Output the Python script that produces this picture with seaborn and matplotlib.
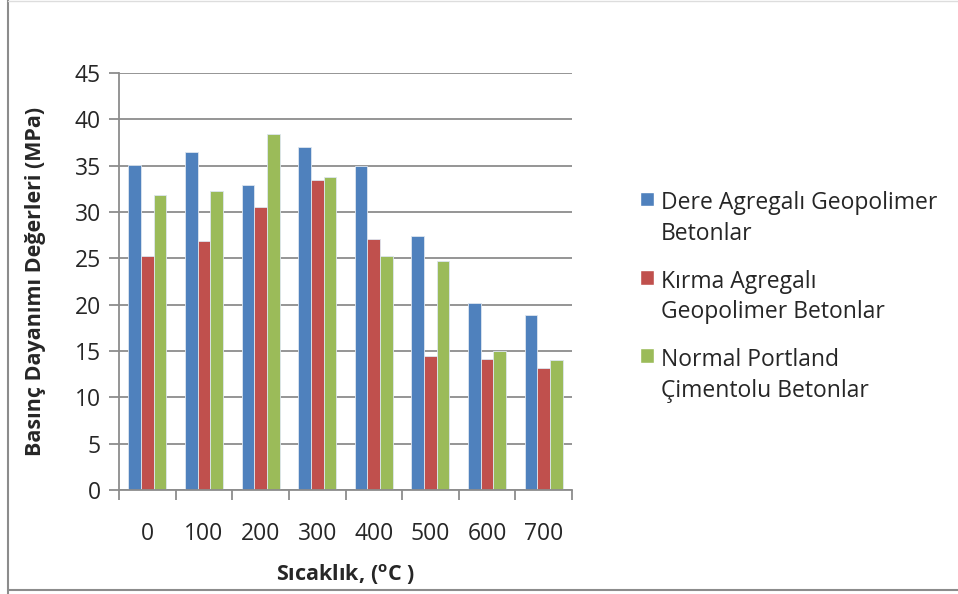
import numpy as np
import pandas as pd
import matplotlib
matplotlib.use("Agg")
import matplotlib.pyplot as plt
import seaborn as sns
from matplotlib.lines import Line2D
from matplotlib.patches import Rectangle
from matplotlib.legend_handler import HandlerPatch

# Basınç dayanımı verileri (MPa)
sicaklik = ["0", "100", "200", "300", "400", "500", "600", "700"]
seriler = ["Dere Agregalı Geopolimer\nBetonlar",
           "Kırma Agregalı\nGeopolimer Betonlar",
           "Normal Portland\nÇimentolu Betonlar"]
dere  = [35.1, 36.5, 32.9, 37.0, 35.0, 27.4, 20.2, 18.9]
kirma = [25.2, 26.9, 30.5, 33.5, 27.1, 14.5, 14.1, 13.2]
npc   = [31.8, 32.3, 38.4, 33.8, 25.3, 24.7, 15.0, 14.0]
renkler = ["#4F81BD", "#C0504D", "#9BBB59"]

df = pd.DataFrame({
    "sicaklik": sicaklik * 3,
    "seri": np.repeat(seriler, len(sicaklik)),
    "deger": dere + kirma + npc,
})

sns.set_style("white")
plt.rcParams["font.family"] = ["Open Sans", "DejaVu Sans"]
plt.rcParams["mathtext.fontset"] = "custom"
plt.rcParams["mathtext.rm"] = "Open Sans"
plt.rcParams["mathtext.bf"] = "Open Sans:bold"

fig = plt.figure(figsize=(9.58, 5.94), dpi=100)
ax = fig.add_axes([0.1242, 0.1751, 0.4729, 0.7020])

sns.barplot(data=df, x="sicaklik", y="deger", hue="seri", order=sicaklik,
            hue_order=seriler, palette=renkler, width=0.67, ax=ax,
            edgecolor="#dde6f0", linewidth=0.6, saturation=1, legend=False)

ax.set_ylim(0, 45)
ax.set_xlim(-0.5, 7.5)
ax.set_yticks(np.arange(0, 46, 5))
ax.yaxis.grid(True, color="#8c8c8c", linewidth=1.3)
ax.set_axisbelow(True)
for s in ["top", "right"]:
    ax.spines[s].set_visible(False)
for s in ["left", "bottom"]:
    ax.spines[s].set_color("#8c8c8c")
    ax.spines[s].set_linewidth(1.3)

ax.set_xticks(np.arange(-0.5, 8, 1), minor=True)
ax.tick_params(axis="x", which="major", length=0, labelsize=16.5, pad=23)
ax.tick_params(axis="x", which="minor", length=7, width=1.3, color="#8c8c8c",
               direction="out", bottom=True)
ax.tick_params(axis="y", length=7, width=1.3, color="#8c8c8c", direction="out",
               left=True, labelsize=16.5, pad=6)

ax.set_xlabel("Sıcaklık, ($^{\\mathbf{o}}$C )", fontsize=15.5, fontweight="bold",
              labelpad=12)
ax.set_ylabel("Basınç Dayanımı Değerleri (MPa)", fontsize=15.5, fontweight="bold",
              labelpad=21)


# lejant kutusu ilk satır hizasında
def ilk_satir(legend, orig_handle, xdescent, ydescent, width, height, fontsize):
    return Rectangle((-xdescent, -ydescent + 0.9 * fontsize), width, height)


kutular = [Rectangle((0, 0), 1, 1, facecolor=c) for c in renkler]
leg = ax.legend(kutular, seriler, loc="center left", bbox_to_anchor=(0.659, 0.50),
                bbox_transform=fig.transFigure, frameon=False, fontsize=16.5,
                handlelength=0.6, handleheight=0.6, handletextpad=0.3,
                labelspacing=1.05, borderaxespad=0,
                handler_map={Rectangle: HandlerPatch(patch_func=ilk_satir)})
for t in leg.get_texts():
    t.set_linespacing(1.35)

# çerçeve
fig.add_artist(Line2D([8 / 958, 8 / 958], [0, 1], color="#8c8c8c", lw=1.5,
                      transform=fig.transFigure))
fig.add_artist(Line2D([8 / 958, 1], [4 / 594, 4 / 594], color="#8c8c8c", lw=1.5,
                      transform=fig.transFigure))
fig.add_artist(Line2D([8 / 958, 1], [0.999, 0.999], color="#dddddd", lw=1,
                      transform=fig.transFigure))

fig.savefig("out.png", dpi=100)
